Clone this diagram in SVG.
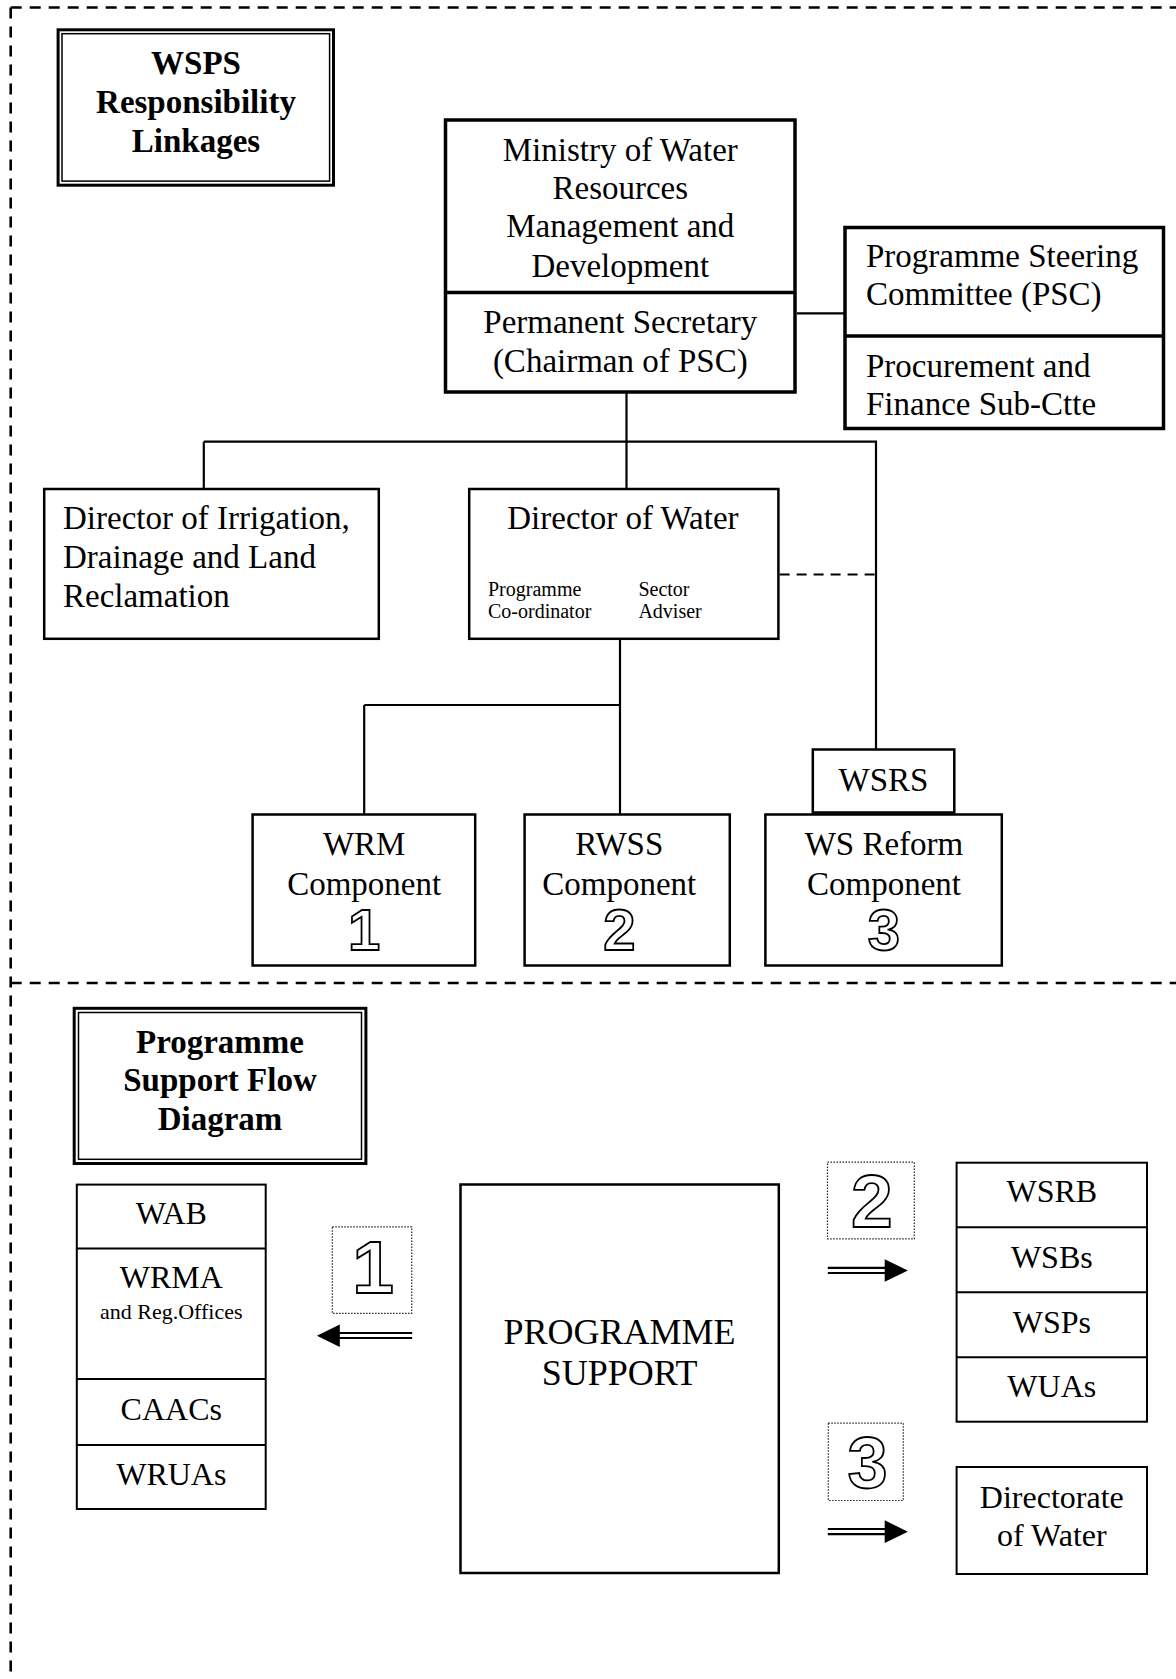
<svg xmlns="http://www.w3.org/2000/svg" width="1176" height="1679" viewBox="0 0 1176 1679">
<style>
.t{font-family:"Liberation Serif","Times New Roman",serif;fill:#000}
.m{font-size:33px}
.c{text-anchor:middle}
.b{font-weight:bold}
.s{font-size:20px}
.n{font-family:"Liberation Sans",Arial,sans-serif;font-weight:bold;fill:#fff;stroke:#000;stroke-width:1.8;text-anchor:middle}
.box{fill:#fff;stroke:#000}
.thick{stroke-width:3.5}
.mid{stroke-width:2.5}
.thin{stroke-width:2}
.ln{stroke:#000;stroke-width:2.2;fill:none}
.border{stroke:#000;stroke-width:2.6;stroke-dasharray:11 8;fill:none}
.dot{fill:none;stroke:#222;stroke-width:1.2;stroke-dasharray:1.5 1.5}
</style>
<defs>
<clipPath id="minTop"><rect x="447" y="121.5" width="346.5" height="169"/></clipPath>
</defs>
<rect width="1176" height="1679" fill="#fff"/>

<g id="frame">
<line class="border" x1="10.7" y1="7.5" x2="1176" y2="7.5"/>
<line class="border" x1="10.7" y1="7.5" x2="10.7" y2="1679"/>
<line class="border" x1="10.7" y1="983" x2="1176" y2="983"/>
</g>

<g id="connectors">
<line class="ln" x1="626.5" y1="388" x2="626.5" y2="488"/>
<line class="ln" x1="203.8" y1="441.7" x2="877" y2="441.7"/>
<line class="ln" x1="203.8" y1="441.7" x2="203.8" y2="488"/>
<line class="ln" x1="876" y1="441.7" x2="876" y2="749.5"/>
<line class="ln" x1="779.6" y1="574.5" x2="876" y2="574.5" stroke-dasharray="10 7"/>
<line class="ln" x1="620" y1="640" x2="620" y2="814.5"/>
<line class="ln" x1="364.2" y1="705" x2="621" y2="705"/>
<line class="ln" x1="364.2" y1="705" x2="364.2" y2="814.5"/>
<line class="ln" x1="797" y1="313.3" x2="845" y2="313.3"/>
<g id="arrow1">
<line class="ln" x1="338" y1="1333" x2="412.2" y2="1333"/>
<line class="ln" x1="338" y1="1338" x2="412.2" y2="1338"/>
<polygon points="316.9,1335.7 339.8,1324.6 339.8,1347" fill="#000"/>
</g>
<g id="arrow2">
<line class="ln" x1="827.8" y1="1267.8" x2="886" y2="1267.8"/>
<line class="ln" x1="827.8" y1="1273" x2="886" y2="1273"/>
<polygon points="907.9,1270.5 884.7,1259.3 884.7,1281.7" fill="#000"/>
</g>
<g id="arrow3">
<line class="ln" x1="827.8" y1="1529" x2="886" y2="1529"/>
<line class="ln" x1="827.8" y1="1534.2" x2="886" y2="1534.2"/>
<polygon points="907.9,1531.7 884.7,1520.3 884.7,1543.1" fill="#000"/>
</g>
</g>

<g id="title1">
<rect class="box" x="58.1" y="29.8" width="275.4" height="155.4" stroke-width="3"/>
<rect fill="none" stroke="#000" x="62" y="33.7" width="267.6" height="147.4" stroke-width="1.5"/>
<text class="t m c b" x="196" y="74">WSPS</text>
<text class="t m c b" x="196" y="113.3">Responsibility</text>
<text class="t m c b" x="196" y="151.7">Linkages</text>
</g>

<g id="ministry">
<rect class="box thick" x="445.5" y="120" width="349.5" height="272"/>
<line stroke="#000" stroke-width="3.5" x1="445.5" y1="292.5" x2="795" y2="292.5"/>
<g clip-path="url(#minTop)">
<text class="t m c" x="620.3" y="160.7">Ministry of Water</text>
<text class="t m c" x="620.3" y="199">Resources</text>
<text class="t m c" x="620.3" y="237.3">Management and</text>
<text class="t m c" x="620.3" y="276.5">Development</text>
</g>
<text class="t m c" x="620.3" y="333.3">Permanent Secretary</text>
<text class="t m c" x="620.3" y="371.7">(Chairman of PSC)</text>
</g>

<g id="psc">
<rect class="box thick" x="845" y="227.5" width="318.5" height="201"/>
<line stroke="#000" stroke-width="3.5" x1="845" y1="336" x2="1163.5" y2="336"/>
<text class="t m" x="866" y="267">Programme Steering</text>
<text class="t m" x="866" y="305">Committee (PSC)</text>
<text class="t m" x="866" y="376.7">Procurement and</text>
<text class="t m" x="866" y="414.5">Finance Sub-Ctte</text>
</g>

<g id="irrigation">
<rect class="box mid" x="44.2" y="489" width="334.6" height="149.8"/>
<text class="t m" x="63" y="529.3">Director of Irrigation,</text>
<text class="t m" x="63" y="568.3">Drainage and Land</text>
<text class="t m" x="63" y="606.7">Reclamation</text>
</g>

<g id="dirwater">
<rect class="box mid" x="469.2" y="489" width="309.2" height="149.8"/>
<text class="t m c" x="622.9" y="529.3">Director of Water</text>
<text class="t s" x="488" y="595.7">Programme</text>
<text class="t s" x="488" y="617.5">Co-ordinator</text>
<text class="t s" x="638.4" y="595.7">Sector</text>
<text class="t s" x="638.4" y="617.5">Adviser</text>
</g>

<g id="wsrs">
<rect class="box mid" x="812.8" y="749.5" width="141.5" height="63"/>
<text class="t m c" x="883.5" y="791">WSRS</text>
</g>

<g id="wrm">
<rect class="box mid" x="252.6" y="814.5" width="222.6" height="151"/>
<text class="t m c" x="364.2" y="855">WRM</text>
<text class="t m c" x="364.2" y="895">Component</text>
<text class="n" x="364.2" y="950" font-size="58">1</text>
</g>

<g id="rwss">
<rect class="box mid" x="524.6" y="814.5" width="205.2" height="151"/>
<text class="t m c" x="619.3" y="855">RWSS</text>
<text class="t m c" x="619.3" y="895">Component</text>
<text class="n" x="619.3" y="950" font-size="58">2</text>
</g>

<g id="wsreform">
<rect class="box mid" x="765.4" y="814.5" width="236.4" height="151"/>
<text class="t m c" x="884" y="855">WS Reform</text>
<text class="t m c" x="884" y="895">Component</text>
<text class="n" x="884" y="950" font-size="58">3</text>
</g>

<g id="title2">
<rect class="box" x="74.2" y="1008.3" width="291.7" height="155.2" stroke-width="3"/>
<rect fill="none" stroke="#000" x="78.5" y="1012.5" width="283" height="146.8" stroke-width="1.5"/>
<text class="t m c b" x="220" y="1053.2">Programme</text>
<text class="t m c b" x="220" y="1091.4">Support Flow</text>
<text class="t m c b" x="220" y="1130">Diagram</text>
</g>

<g id="leftcol">
<rect class="box thin" x="76.8" y="1184.6" width="188.9" height="324.4"/>
<line stroke="#000" stroke-width="2" x1="76.8" y1="1248.6" x2="265.7" y2="1248.6"/>
<line stroke="#000" stroke-width="2" x1="76.8" y1="1378.9" x2="265.7" y2="1378.9"/>
<line stroke="#000" stroke-width="2" x1="76.8" y1="1445" x2="265.7" y2="1445"/>
<text class="t c" font-size="32" x="171.3" y="1224">WAB</text>
<text class="t c" font-size="32" x="171.3" y="1287.9">WRMA</text>
<text class="t c" font-size="22" x="171.3" y="1318.6">and Reg.Offices</text>
<text class="t c" font-size="32" x="171.3" y="1420">CAACs</text>
<text class="t c" font-size="32" x="171.3" y="1484.6">WRUAs</text>
</g>

<g id="num1">
<rect class="dot" x="332.3" y="1226.9" width="79.4" height="86.5"/>
<text class="n" x="373" y="1293" font-size="75">1</text>
</g>

<g id="progsupport">
<rect class="box mid" x="460.5" y="1184.5" width="318.3" height="388.5"/>
<text class="t c" font-size="36" x="619.6" y="1344">PROGRAMME</text>
<text class="t c" font-size="36" x="619.6" y="1385">SUPPORT</text>
</g>

<g id="num2">
<rect class="dot" x="827.5" y="1162.2" width="86.8" height="76.6"/>
<text class="n" x="871.9" y="1227" font-size="75">2</text>
</g>

<g id="num3">
<rect class="dot" x="828.3" y="1423.2" width="75" height="77.3" stroke="#888"/>
<text class="n" x="867.4" y="1488.3" font-size="72">3</text>
</g>

<g id="rightcol">
<rect class="box thin" x="956.6" y="1162.7" width="190.4" height="259"/>
<line stroke="#000" stroke-width="2" x1="956.6" y1="1227.3" x2="1147" y2="1227.3"/>
<line stroke="#000" stroke-width="2" x1="956.6" y1="1292.3" x2="1147" y2="1292.3"/>
<line stroke="#000" stroke-width="2" x1="956.6" y1="1357.3" x2="1147" y2="1357.3"/>
<text class="t c" font-size="32" x="1051.8" y="1201.7">WSRB</text>
<text class="t c" font-size="32" x="1051.8" y="1268">WSBs</text>
<text class="t c" font-size="32" x="1051.8" y="1332.7">WSPs</text>
<text class="t c" font-size="32" x="1051.8" y="1397">WUAs</text>
</g>

<g id="directorate">
<rect class="box thin" x="956.6" y="1467" width="190.4" height="107"/>
<text class="t c" font-size="32" x="1051.8" y="1507.5">Directorate</text>
<text class="t c" font-size="32" x="1051.8" y="1545.5">of Water</text>
</g>
</svg>
